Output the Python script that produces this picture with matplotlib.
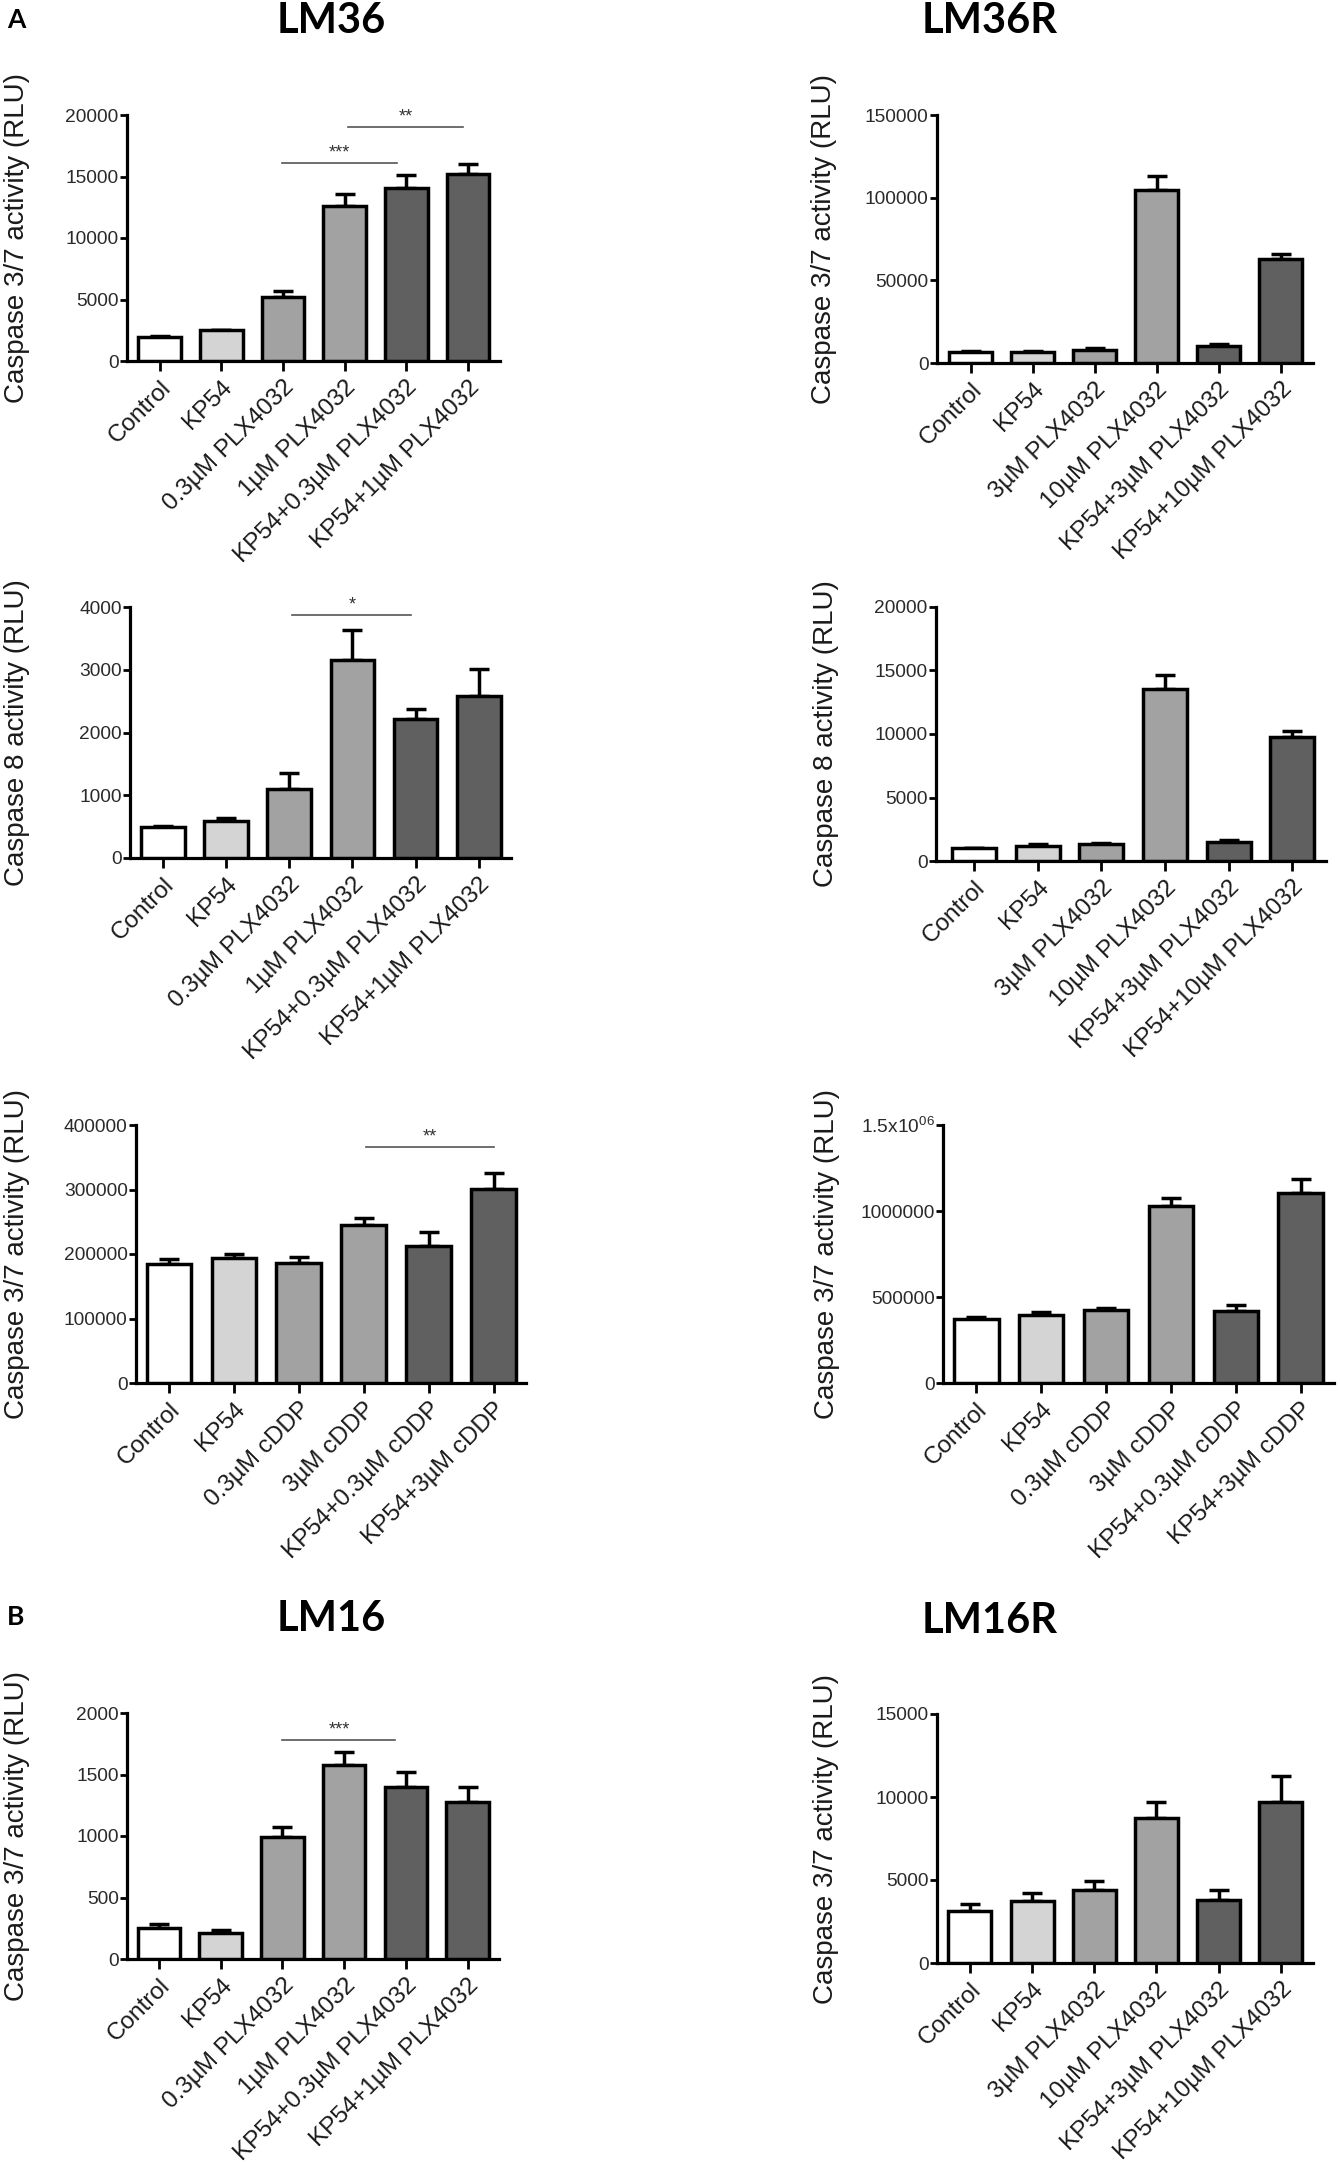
import matplotlib
matplotlib.use('Agg')
import matplotlib.pyplot as plt

W, H = 1340, 2164
plt.rcParams['font.family'] = ['Liberation Sans', 'DejaVu Sans']
plt.rcParams['mathtext.fontset'] = 'custom'
plt.rcParams['mathtext.rm'] = 'Liberation Sans'
plt.rcParams['mathtext.it'] = 'Liberation Sans:italic'

# ---------------- data ----------------
labels_plx_s = ["Control", "KP54", "0.3µM PLX4032", "1µM PLX4032",
                "KP54+0.3µM PLX4032", "KP54+1µM PLX4032"]
labels_plx_r = ["Control", "KP54", "3µM PLX4032", "10µM PLX4032",
                "KP54+3µM PLX4032", "KP54+10µM PLX4032"]
labels_cddp = ["Control", "KP54", "0.3µM cDDP", "3µM cDDP",
               "KP54+0.3µM cDDP", "KP54+3µM cDDP"]

lm36_c37 = [1950, 2480, 5170, 12600, 14100, 15200]
lm36_c37_err = [110, 40, 500, 1000, 1000, 800]

lm36r_c37 = [6500, 6900, 8000, 104700, 10300, 62700]
lm36r_c37_err = [1000, 300, 850, 8600, 900, 3200]

lm36_c8 = [490, 590, 1100, 3150, 2210, 2575]
lm36_c8_err = [15, 40, 250, 490, 165, 435]

lm36r_c8 = [1000, 1200, 1330, 13540, 1520, 9750]
lm36r_c8_err = [40, 100, 100, 1100, 100, 520]

lm36_cddp = [185000, 194300, 186600, 244700, 212300, 300300]
lm36_cddp_err = [7700, 6000, 8700, 10800, 22100, 24700]

lm36r_cddp = [372000, 395000, 426000, 1031000, 416000, 1105000]
lm36r_cddp_err = [13500, 15000, 11600, 44000, 38600, 83000]

lm16_c37 = [256, 215, 993, 1580, 1395, 1276]
lm16_c37_err = [27, 20, 80, 100, 128, 119]

lm16r_c37 = [3130, 3730, 4410, 8735, 3820, 9700]
lm16r_c37_err = [440, 460, 550, 970, 550, 1570]

ticks_lm36_c37 = [0, 5000, 10000, 15000, 20000]
ticks_lm36r_c37 = [0, 50000, 100000, 150000]
ticks_lm36_c8 = [0, 1000, 2000, 3000, 4000]
ticks_lm36r_c8 = [0, 5000, 10000, 15000, 20000]
ticks_lm36_cddp = [0, 100000, 200000, 300000, 400000]
ticks_lm36r_cddp = [0, 500000, 1000000, 1500000]
ticklabels_lm36r_cddp = ["0", "500000", "1000000", r"1.5x10$^{06}$"]
ticks_lm16_c37 = [0, 500, 1000, 1500, 2000]
ticks_lm16r_c37 = [0, 5000, 10000, 15000]

bar_colors = ['#ffffff', '#d4d4d4', '#a2a2a2', '#a2a2a2', '#606060', '#606060']

ylab37 = "Caspase 3/7 activity (RLU)"
ylab8 = "Caspase 8 activity (RLU)"

fig = plt.figure(figsize=(W / 100, H / 100), dpi=100)


def panel(box, xlim, labels, vals, errs, ticks, ylabel, ylab_x,
          ticklabels=None, sigs=()):
    l, r, t, b = box
    ax = fig.add_axes([l / W, 1 - b / H, (r - l) / W, (b - t) / H])
    x = list(range(len(vals)))
    ax.bar(x, vals, width=0.69, color=bar_colors, edgecolor='black',
           linewidth=2.5, zorder=3)
    ax.errorbar(x, vals, yerr=[[0] * len(errs), errs], fmt='none',
                ecolor='black', elinewidth=2.5, capsize=7.5, capthick=2.5,
                zorder=2)
    ax.set_xlim(*xlim)
    ax.set_ylim(0, ticks[-1])
    ax.set_yticks(ticks)
    ax.set_yticklabels(ticklabels if ticklabels else [str(v) for v in ticks])
    ax.set_xticks(x)
    ax.set_xticklabels(labels, rotation=45, ha='right', va='top',
                       rotation_mode='anchor', fontsize=17.5, color='#1a1a1a')
    for s in ('top', 'right'):
        ax.spines[s].set_visible(False)
    for s in ('left', 'bottom'):
        ax.spines[s].set_linewidth(2.3)
    ax.tick_params(axis='y', direction='out', length=5, width=2,
                   labelsize=13.8, labelcolor='#2a2a2a', pad=1)
    ax.tick_params(axis='x', direction='out', length=7, width=2, pad=4)
    ax.set_facecolor('none')
    fig.text(ylab_x / W, 1 - ((t + b) / 2) / H, ylabel, rotation=90,
             ha='center', va='center', fontsize=20, color='#1a1a1a')
    for x1, x2, yv, txt in sigs:
        ax.plot([x1, x2], [yv, yv], color='#555555', lw=1.2, zorder=4,
                clip_on=False)
        ax.annotate(txt, xy=((x1 + x2) / 2, yv), xytext=(0, 1),
                    textcoords='offset points', ha='center', va='bottom',
                    fontsize=13, color='#333333')
    return ax


panel((127, 500, 115, 361), (-0.53, 5.52), labels_plx_s, lm36_c37, lm36_c37_err,
      ticks_lm36_c37, ylab37, 17,
      sigs=[(1.99, 3.85, 16100, '***'), (3.05, 4.92, 19000, '**')])
panel((937, 1313, 115, 363), (-0.54, 5.52), labels_plx_r, lm36r_c37, lm36r_c37_err,
      ticks_lm36r_c37, ylab37, 824)
panel((130, 511, 607, 858), (-0.52, 5.51), labels_plx_s, lm36_c8, lm36_c8_err,
      ticks_lm36_c8, ylab8, 17, sigs=[(2.05, 3.93, 3870, '*')])
panel((936, 1326, 607, 861), (-0.60, 5.53), labels_plx_r, lm36r_c8, lm36r_c8_err,
      ticks_lm36r_c8, ylab8, 826)
panel((136, 526, 1125, 1383), (-0.51, 5.50), labels_cddp, lm36_cddp, lm36_cddp_err,
      ticks_lm36_cddp, ylab37, 17, sigs=[(3.04, 5.0, 366600, '**')])
panel((943, 1334, 1125, 1383), (-0.51, 5.51), labels_cddp, lm36r_cddp, lm36r_cddp_err,
      ticks_lm36r_cddp, ylab37, 827, ticklabels=ticklabels_lm36r_cddp)
panel((127, 499, 1713, 1959), (-0.52, 5.51), labels_plx_s, lm16_c37, lm16_c37_err,
      ticks_lm16_c37, ylab37, 17, sigs=[(2.0, 3.83, 1782, '***')])
panel((937, 1313, 1714, 1963), (-0.53, 5.52), labels_plx_r, lm16r_c37, lm16r_c37_err,
      ticks_lm16r_c37, ylab37, 826)

title_font = dict(family=['Lato', 'DejaVu Sans'], fontweight='bold', fontsize=30,
                  ha='center', va='center')
fig.text(331 / W, 1 - 21 / H, "LM36", **title_font)
fig.text(990 / W, 1 - 21 / H, "LM36R", **title_font)
fig.text(331 / W, 1 - 1619 / H, "LM16", **title_font)
fig.text(990 / W, 1 - 1621 / H, "LM16R", **title_font)

panel_font = dict(family=['Lato', 'DejaVu Sans'], fontweight='bold', fontsize=19,
                  ha='center', va='center')
fig.text(16 / W, 1 - 20 / H, "A", **panel_font)
fig.text(16 / W, 1 - 1617 / H, "B", **panel_font)

fig.savefig('out.png', dpi=100, facecolor='white')
